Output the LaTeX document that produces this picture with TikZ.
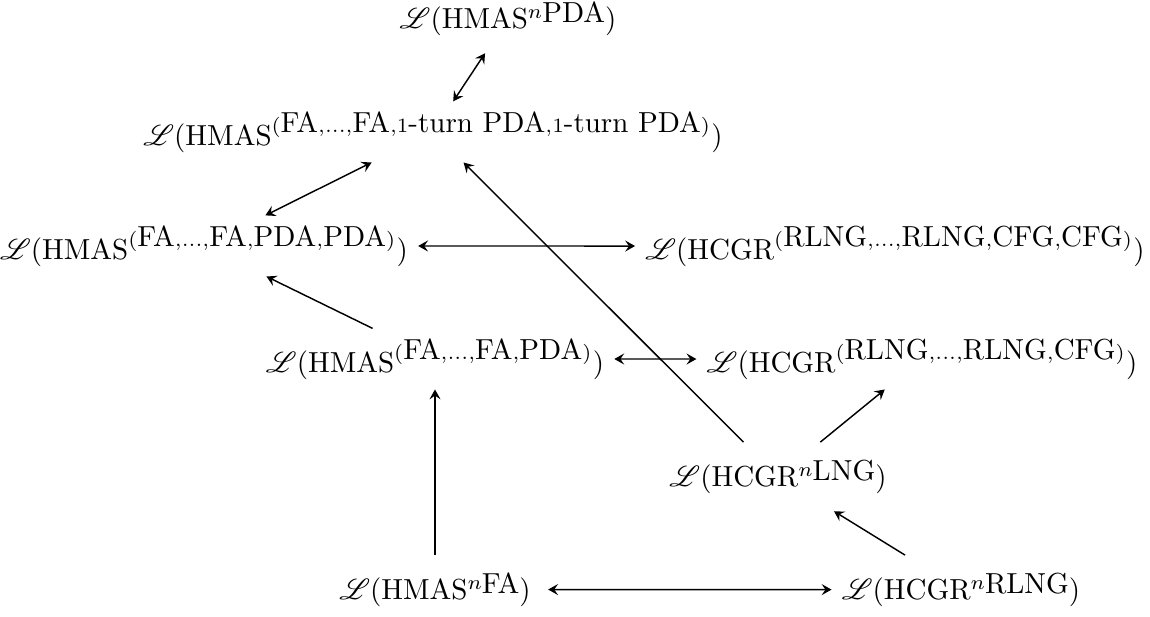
\documentclass[tikz,border=0pt]{standalone}
\usepackage{mathrsfs}
\usetikzlibrary{arrows.meta}
\newcommand{\nsup}[1]{\raisebox{3.2pt}{$\scriptstyle n$}\raisebox{1.9pt}{#1}}
\begin{document}
\begin{tikzpicture}[x=0.345pt,y=-0.345pt,
  lbl/.style={inner sep=3.33pt,anchor=base},
  nlbl/.style={inner xsep=3.33pt,inner ysep=6pt,anchor=base},
  >={Stealth[length=3.4pt,width=3.8pt,inset=1.3pt]},
  conn/.style={line width=0.5pt}]
\useasboundingbox (0,0) rectangle (1150,616);
\node[nlbl] (A) at (508,28) {$\mathscr{L}(\mathrm{HMAS}\nsup{PDA})$};
\node[lbl] (B) at (433,145) {$\mathscr{L}(\mathrm{HMAS}^{(\mbox{FA},\ldots,\mbox{FA},1\mbox{-turn PDA},1\mbox{-turn PDA})})$};
\node[lbl] (C) at (204,259) {$\mathscr{L}(\mathrm{HMAS}^{(\mbox{FA},\ldots,\mbox{FA},\mbox{PDA},\mbox{PDA})})$};
\node[lbl] (D) at (895,259) {$\mathscr{L}(\mathrm{HCGR}^{(\mbox{RLNG},\ldots,\mbox{RLNG},\mbox{CFG},\mbox{CFG})})$};
\node[lbl] (E) at (435,372) {$\mathscr{L}(\mathrm{HMAS}^{(\mbox{FA},\ldots,\mbox{FA},\mbox{PDA})})$};
\node[lbl] (F) at (922,372) {$\mathscr{L}(\mathrm{HCGR}^{(\mbox{RLNG},\ldots,\mbox{RLNG},\mbox{CFG})})$};
\node[nlbl] (G) at (778,486) {$\mathscr{L}(\mathrm{HCGR}\nsup{LNG})$};
\node[nlbl] (H) at (435,599) {$\mathscr{L}(\mathrm{HMAS}\nsup{FA})$};
\node[nlbl] (I) at (961,599) {$\mathscr{L}(\mathrm{HCGR}\nsup{RLNG})$};
\draw[conn,<->] (A) -- (B);
\draw[conn,<->] (B) -- (C);
\draw[conn,<->] (C) -- (D);
\draw[conn,->] (E) -- (C);
\draw[conn,<->] (E) -- (F);
\draw[conn,->] (G) -- (B);
\draw[conn,->] (G) -- (F);
\draw[conn,->] (I) -- (G);
\draw[conn,->] (H) -- (E);
\draw[conn,<->,shorten <=2.5pt] (H) -- (I);
\end{tikzpicture}
\end{document}
